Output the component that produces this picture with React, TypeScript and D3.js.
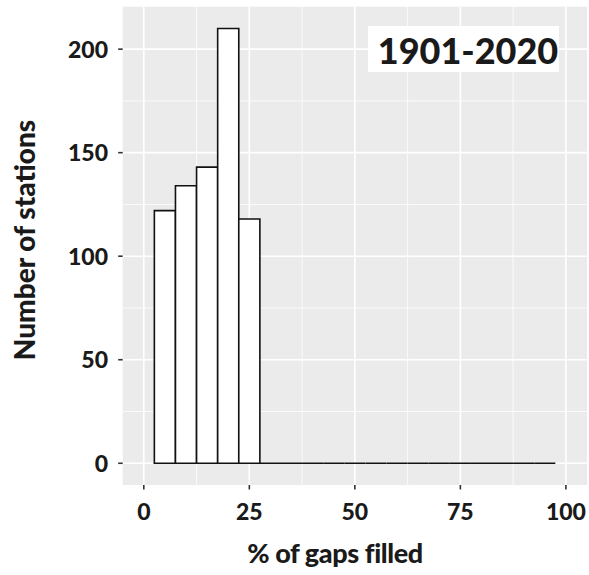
import { useEffect, useRef } from 'react';
import * as d3 from 'd3';

const WIDTH = 589;
const HEIGHT = 575;
const PANEL = { left: 122.7, right: 587, top: 6.7, bottom: 485 };

// histogram bins, binwidth 5, centres 5..95
const BIN_CENTERS = [5, 10, 15, 20, 25, 30, 35, 40, 45, 50, 55, 60, 65, 70, 75, 80, 85, 90, 95];
const COUNTS = [122, 134, 143, 210, 118, 0, 0, 0, 0, 0, 0, 0, 0, 0, 0, 0, 0, 0, 0];
const BIN_WIDTH = 5;

const X_TICKS = [0, 25, 50, 75, 100];
const X_MINOR = [12.5, 37.5, 62.5, 87.5];
const Y_TICKS = [0, 50, 100, 150, 200];
const Y_MINOR = [25, 75, 125, 175];

const FONT = 'Lato, "Open Sans", sans-serif';
const WEIGHT = 900;

export default function App() {
  const svgRef = useRef<SVGSVGElement>(null);

  useEffect(() => {
    document.body.style.margin = '0';
    const svg = d3.select(svgRef.current);
    svg.selectAll('*').remove();

    const x = d3.scaleLinear().domain([-5, 105]).range([PANEL.left, PANEL.right]);
    const y = d3.scaleLinear().domain([-10.5, 220.5]).range([PANEL.bottom, PANEL.top]);

    // panel background
    svg.append('rect')
      .attr('x', PANEL.left).attr('y', PANEL.top)
      .attr('width', PANEL.right - PANEL.left).attr('height', PANEL.bottom - PANEL.top)
      .attr('fill', '#ebebeb');

    const grid = svg.append('g');
    X_MINOR.forEach((v) => {
      grid.append('line').attr('x1', x(v)).attr('x2', x(v)).attr('y1', PANEL.top).attr('y2', PANEL.bottom)
        .attr('stroke', '#fff').attr('stroke-width', 0.8);
    });
    Y_MINOR.forEach((v) => {
      grid.append('line').attr('y1', y(v)).attr('y2', y(v)).attr('x1', PANEL.left).attr('x2', PANEL.right)
        .attr('stroke', '#fff').attr('stroke-width', 0.8);
    });
    X_TICKS.forEach((v) => {
      grid.append('line').attr('x1', x(v)).attr('x2', x(v)).attr('y1', PANEL.top).attr('y2', PANEL.bottom)
        .attr('stroke', '#fff').attr('stroke-width', 1.6);
    });
    Y_TICKS.forEach((v) => {
      grid.append('line').attr('y1', y(v)).attr('y2', y(v)).attr('x1', PANEL.left).attr('x2', PANEL.right)
        .attr('stroke', '#fff').attr('stroke-width', 1.6);
    });

    // bars, drawn as paths so zero-height bins still show their outline
    svg.append('g')
      .selectAll('path')
      .data(BIN_CENTERS)
      .join('path')
      .attr('d', (c, i) => {
        const x0 = x(c - BIN_WIDTH / 2);
        const x1 = x(c + BIN_WIDTH / 2);
        const y0 = y(0);
        const y1 = y(COUNTS[i]);
        return `M${x0},${y0}H${x1}V${y1}H${x0}Z`;
      })
      .attr('fill', '#fff')
      .attr('stroke', '#111')
      .attr('stroke-width', 1.6);

    // x axis ticks + labels
    const xa = svg.append('g');
    X_TICKS.forEach((v) => {
      xa.append('line').attr('x1', x(v)).attr('x2', x(v)).attr('y1', PANEL.bottom).attr('y2', PANEL.bottom + 4.5)
        .attr('stroke', '#333').attr('stroke-width', 1.6);
      xa.append('text').attr('x', x(v)).attr('y', 519.5).attr('text-anchor', 'middle')
        .style('font-family', FONT).style('font-weight', WEIGHT).style('font-size', '23px').attr('fill', '#1a1a1a')
        .text(v);
    });

    // y axis ticks + labels
    const ya = svg.append('g');
    Y_TICKS.forEach((v) => {
      ya.append('line').attr('x1', PANEL.left - 4.5).attr('x2', PANEL.left).attr('y1', y(v)).attr('y2', y(v))
        .attr('stroke', '#333').attr('stroke-width', 1.6);
      ya.append('text').attr('x', 108).attr('y', y(v) + 8.5).attr('text-anchor', 'end')
        .style('font-family', FONT).style('font-weight', WEIGHT).style('font-size', '23px').attr('fill', '#1a1a1a')
        .text(v);
    });

    // axis titles
    svg.append('text').attr('x', 335).attr('y', 563).attr('text-anchor', 'middle')
      .style('font-family', FONT).style('font-weight', WEIGHT).style('font-size', '27px')
      .style('letter-spacing', '-0.4px').attr('fill', '#1a1a1a')
      .text('% of gaps filled');
    svg.append('text').attr('transform', 'translate(35,240) rotate(-90)').attr('text-anchor', 'middle')
      .style('font-family', FONT).style('font-weight', WEIGHT).style('font-size', '28px').attr('fill', '#1a1a1a')
      .text('Number of stations');

    // period label
    svg.append('rect').attr('x', 368).attr('y', 26).attr('width', 191).attr('height', 46).attr('fill', '#fff');
    svg.append('text').attr('x', 468).attr('y', 63.5).attr('text-anchor', 'middle')
      .style('font-family', FONT).style('font-weight', WEIGHT).style('font-size', '36px').attr('fill', '#1a1a1a')
      .text('1901-2020');
  }, []);

  return <svg ref={svgRef} width={WIDTH} height={HEIGHT} style={{ display: 'block' }} />;
}
